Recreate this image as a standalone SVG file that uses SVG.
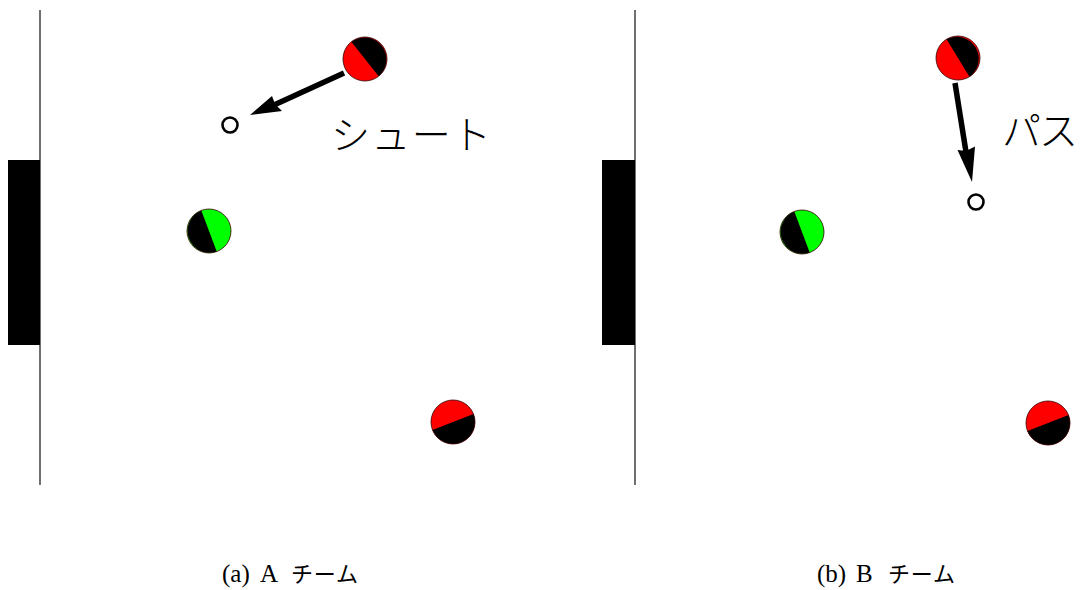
<svg xmlns="http://www.w3.org/2000/svg" width="1081" height="590" viewBox="0 0 1081 590">
<style>
.field{stroke:#222;stroke-width:1.3;fill:none}
.goal{fill:#000}
.ball{fill:#fff;stroke:#000;stroke-width:2.6}
.disc{stroke:#300;stroke-width:0.8;fill:none}
.shaft{stroke:#000;stroke-width:5.5;fill:none}
.head{fill:#000}
.label{font-family:"Noto Sans CJK JP",sans-serif;font-size:39px;font-weight:300;fill:#000}
.cap{font-family:"Liberation Serif",serif;font-size:25px;fill:#000}
.capj{font-family:"Noto Sans CJK JP",sans-serif;font-size:22px;font-weight:400;fill:#000}
</style>
<g id="panelA">
<line class="field" x1="40" y1="10" x2="40" y2="485"/>
<rect class="goal" x="8" y="160" width="32" height="185"/>
<g id="a-red1">
<circle cx="365" cy="59" r="22" fill="#f00"/>
<path d="M351.3 41.8 A22 22 0 0 1 378.7 76.2 Z" fill="#000"/>
<circle class="disc" cx="365" cy="59" r="22"/>
</g>
<g id="a-green">
<circle cx="209" cy="231" r="22" fill="#0f0"/>
<path d="M201.3 210.4 A22 22 0 0 0 216.7 251.6 Z" fill="#000"/>
<circle class="disc" cx="209" cy="231" r="22"/>
</g>
<g id="a-red2">
<circle cx="453" cy="422" r="22" fill="#f00"/>
<path d="M432.5 430.1 A22 22 0 0 0 473.5 413.9 Z" fill="#000"/>
<circle class="disc" cx="453" cy="422" r="22"/>
</g>
<g id="a-ball"><circle class="ball" cx="230" cy="125" r="7.5"/></g>
<text id="a-shoot" class="label" x="331" y="149" textLength="160">シュート</text>
<text id="a-cap" class="cap" y="582"><tspan x="222">(a)</tspan><tspan x="260">A</tspan><tspan class="capj" x="291" textLength="67">チーム</tspan></text>
</g>
<g id="panelB">
<line class="field" x1="635" y1="10" x2="635" y2="485"/>
<rect class="goal" x="602" y="160" width="33" height="185"/>
<g id="b-red1">
<circle cx="958" cy="58" r="22" fill="#f00"/>
<path d="M946.5 39.3 A22 22 0 0 1 969.5 76.7 Z" fill="#000"/>
<circle class="disc" cx="958" cy="58" r="22"/>
</g>
<g id="b-green">
<circle cx="802" cy="232" r="22" fill="#0f0"/>
<path d="M794.3 211.4 A22 22 0 0 0 809.7 252.6 Z" fill="#000"/>
<circle class="disc" cx="802" cy="232" r="22"/>
</g>
<g id="b-red2">
<circle cx="1048" cy="423" r="22" fill="#f00"/>
<path d="M1027.5 431.1 A22 22 0 0 0 1068.5 414.9 Z" fill="#000"/>
<circle class="disc" cx="1048" cy="423" r="22"/>
</g>
<g id="b-ball"><circle class="ball" cx="976" cy="202" r="7.5"/></g>
<text id="b-pass" class="label" x="1002" y="145" textLength="76">パス</text>
<text id="b-cap" class="cap" y="582"><tspan x="817">(b)</tspan><tspan x="856">B</tspan><tspan class="capj" x="888" textLength="67">チーム</tspan></text>
</g>
<g id="connectors">
<line class="shaft" x1="344" y1="73" x2="274" y2="105"/>
<path class="head" d="M250 115 L272 96 L275 104 L282 111 Z"/>
<line class="shaft" x1="955" y1="83" x2="966" y2="152"/>
<path class="head" d="M972 182 L957.5 150 L966 151 L975 146.5 Z"/>
</g>
</svg>
